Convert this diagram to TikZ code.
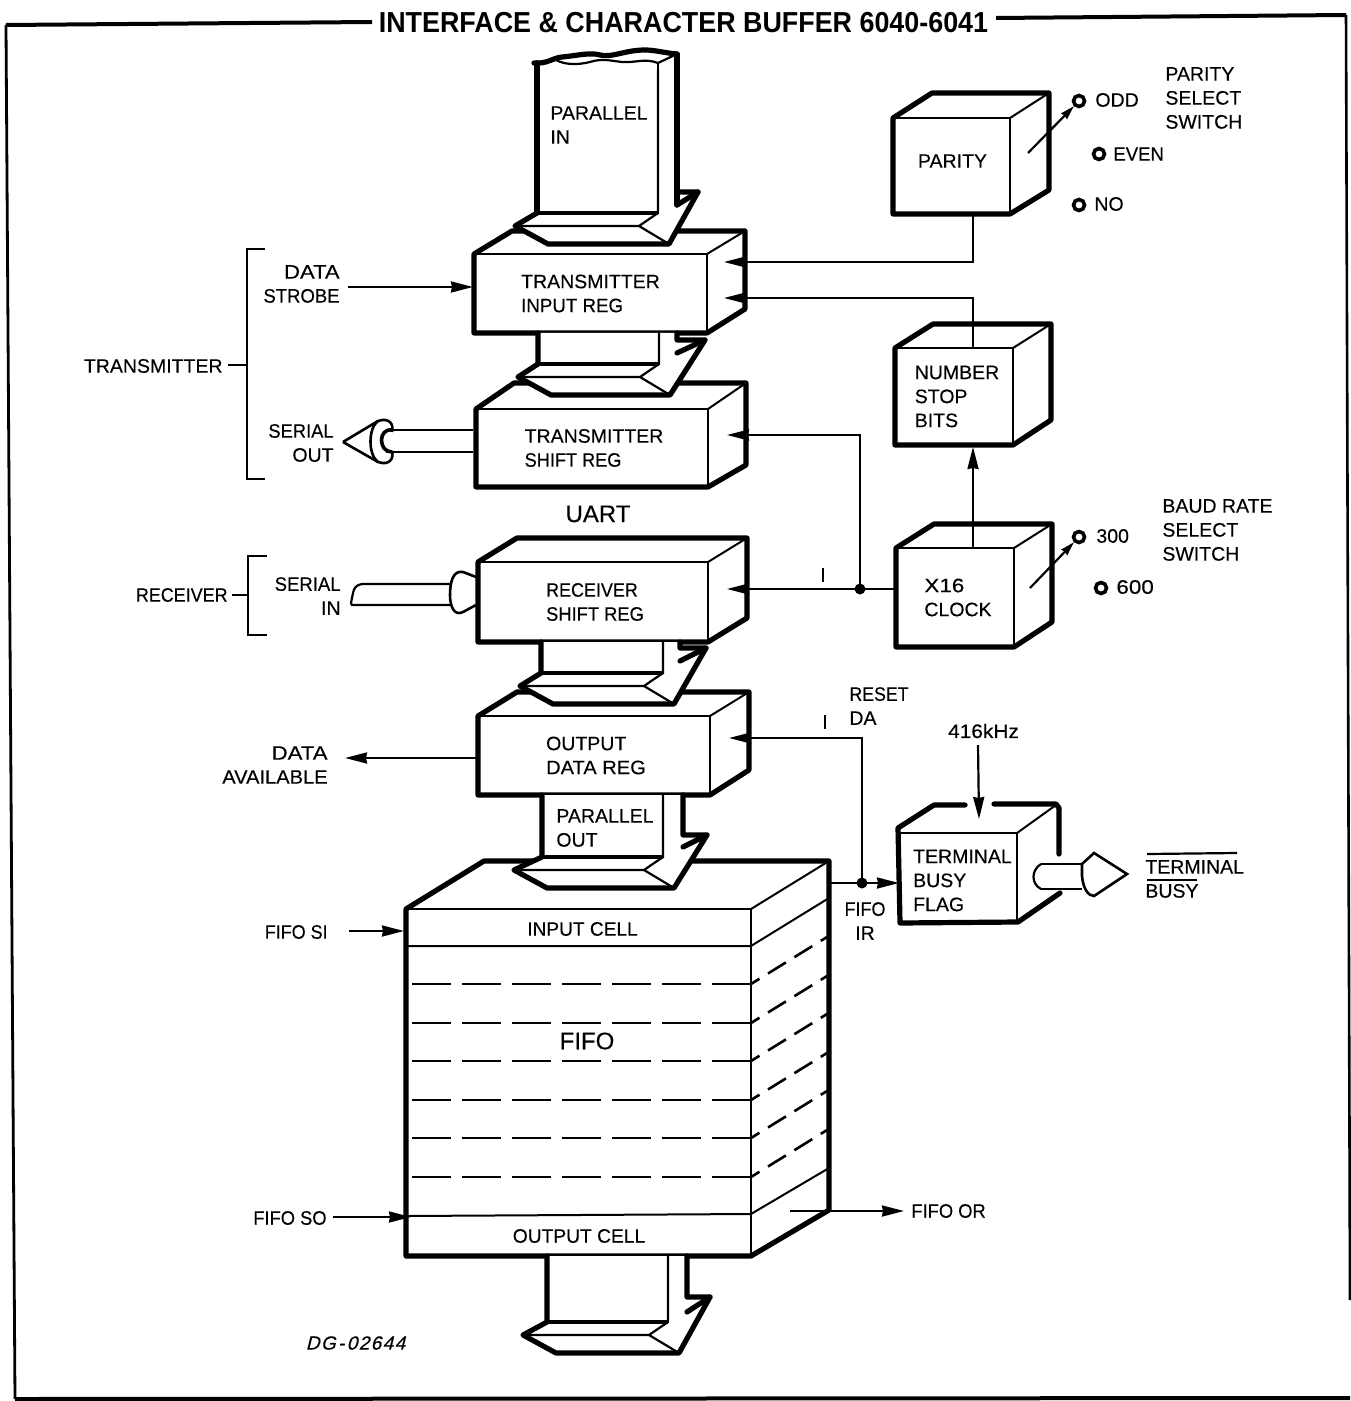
\documentclass[tikz,border=0pt]{standalone}
\usepackage{fontspec}
\setmainfont{Liberation Sans}[FakeBold=0.25]
\newfontfamily\titlefont{Liberation Sans Bold}[FakeStretch=0.93]
\newfontfamily\dgfont{Liberation Sans}[FakeBold=0.5,FakeSlant=0.25]
\usetikzlibrary{arrows.meta}
\newcommand\sx[2]{\scalebox{#1}[1]{#2}}
\newcommand\pl[1]{\hspace*{#1pt}}
\newcommand\dn[1]{\raisebox{-1.5pt}[\height][\depth]{#1}}
\tikzset{
  thin line/.style={line width=1pt},
  heavy/.style={line width=2.6pt,line join=round,line cap=round},
  wire/.style={line width=1.1pt},
  dashline/.style={line width=1.3pt},
  arr/.style={wire,-{Stealth[length=11pt,width=5.5pt,inset=0.5pt]}},
  lbl/.style={inner sep=0pt,align=left,font=\fontsize{9.75pt}{12pt}\selectfont},
  lblr/.style={inner sep=0pt,align=right,font=\fontsize{9.75pt}{12pt}\selectfont},
  boxface/.style={draw,fill=white,line width=1pt,inner sep=0pt,align=left,font=\fontsize{9.75pt}{12pt}\selectfont},
  dot/.style={circle,fill=black,inner sep=0pt,minimum size=5.5pt},
  term/.style={circle,draw,line width=1.8pt,fill=white,inner sep=0pt,minimum size=5.5pt},
}
% name, x0, y0, x1, y1, back x, back top, back bottom, text
\newcommand\regbox[9]{%
  \pgfmathsetmacro\bxd{#6-#4}%
  \pgfmathsetmacro\bxl{#2+\bxd}%
  \pgfmathsetmacro\bxw{(#4-#2)*0.5}%
  \pgfmathsetmacro\bxh{(#5-#3)*0.5}%
  \pgfmathsetmacro\bxcx{(#4+#2)*0.5}%
  \pgfmathsetmacro\bxcy{(#5+#3)*0.5}%
  \fill[white] (#2,#3)--(\bxl,#7)--(#6,#7)--(#6,#8)--(#4,#5)--(#2,#5)--cycle;
  \draw[thin line] (#4,#3)--(#6,#7);
  \node[boxface,minimum width=\bxw pt,minimum height=\bxh pt] (#1) at (\bxcx,\bxcy) {#9};
  \draw[heavy] (#2,#3)--(\bxl,#7)--(#6,#7)--(#6,#8)--(#4,#5)--(#2,#5)--cycle;
}
% L, R, O, top, Y, head x, head y, outer end y; tip x in \rT
\newcommand\ribbon[8]{%
  \pgfmathsetmacro\rty{#5+13}%
  \pgfmathsetmacro\rblx{\rT+33}%
  \pgfmathsetmacro\rbly{#5+31}%
  \pgfmathsetmacro\rbrx{#2+11}%
  \pgfmathsetmacro\rix{#2-19}%
  \fill[white] (#1,#4)--(#3,#4)--(#3,#8)--(#6,#7)--(\rbrx,\rbly)--(\rblx,\rbly)--(\rT,\rty)--(#1,#5)--cycle;
  \draw[line width=1.1pt] (#2,#4)--(#2,#5)--(\rix,\rty)--(\rT,\rty);
  \draw[line width=1.1pt] (\rix,\rty)--(\rbrx,\rbly);
  \draw[line width=1.6pt] (#1,#5)--(#2,#5);
  \draw[heavy] (#1,#4)--(#1,#5)--(\rT,\rty)--(\rblx,\rbly)--(\rbrx,\rbly)--(#6,#7)--(#3,#7)--(#3,#4);
  \draw[heavy] (#3,#8)--(#6,#7);
}
\begin{document}
\begin{tikzpicture}[x=0.5pt,y=-0.5pt]
\useasboundingbox (0,0) rectangle (1350,1401);
\fill[white] (0,0) rectangle (1350,1401);
% frame
\coordinate (fTL) at (6,25); \coordinate (fTa) at (372,22); \coordinate (fTb) at (996,18);
\coordinate (fTR) at (1346,15); \coordinate (fBL) at (15,1399); \coordinate (fBR) at (1350,1398);
\coordinate (fRb) at (1350,1300);
\draw[line width=2pt,line join=round] (fTL)--(fTa) (fTb)--(fTR);
\draw[line width=1.4pt] (fTL)--(fBL);
\draw[line width=1.3pt] (fTR)--(fRb);
\draw[line width=2pt] (fBL)--(fBR);
\node[inner sep=0pt,font=\fontsize{14.45pt}{16pt}\titlefont] (title) at (683.5,23) {INTERFACE \& CHARACTER BUFFER 6040-6041};

% registers
\regbox{tir}{474}{254}{707}{333}{745}{231}{309}{TRANSMITTER\\\sx{.96}{INPUT REG}}
\regbox{tsr}{476}{409}{708}{487}{746}{383}{465}{\pl{2}TRANSMITTER\\\pl{2}\sx{.93}{SHIFT REG}}
\regbox{rsr}{478}{562}{708}{642}{747}{538}{618}{\pl{2}\sx{.92}{RECEIVER}\\\pl{2}\sx{.94}{SHIFT REG}}
\regbox{odr}{478}{716}{710}{795}{749}{692}{770}{\pl{2}OUTPUT\\\pl{2}\sx{1.03}{DATA REG}}
\regbox{parity}{893}{118}{1010}{214}{1049}{93}{190}{\pl{1}PARITY\\[-7pt]\mbox{}}
\regbox{nsb}{895}{348}{1013}{445}{1051}{324}{420}{\pl{3}NUMBER\\\pl{3}STOP\\\pl{3}BITS}
\regbox{clk}{896}{548}{1014}{647}{1052}{524}{622}{\pl{3}\sx{1.15}{X16}\\\pl{3}CLOCK}
% terminal busy flag: outline broken at the top and on the side
\fill[white] (900,833)--(935,803)--(1058,803)--(1058,893)--(1017,922)--(900,922)--cycle;
\draw[thin line] (1017,833)--(1056,805);
\node[boxface,minimum width=58.5pt,minimum height=44.5pt] (tbf) at (958.5,877.5) {\pl{4}\dn{TERMINAL}\\\pl{4}\dn{BUSY}\\\pl{4}\dn{FLAG}};
\draw[heavy] (965,805)--(934,805)--(898,828)--(900,923)--(1018,922)--(1060,893);
\draw[heavy] (994,804)--(1056,804)--(1059,808)--(1059,854);
% FIFO
\regbox{fifo}{406}{909}{751}{1256}{829}{861}{1210}{}
\draw[thin line] (406,946)--(751,946)--(829,898);
\draw[thin line] (406,1216)--(751,1214)--(829,1168);
\foreach \yy in {984,1023,1061,1100,1138,1177}{
  \draw[dashline,dash pattern=on 19.5pt off 5.5pt] (751,\yy)--(408,\yy);
  \draw[dashline,dash pattern=on 5pt off 5pt on 10.5pt off 5pt on 10.5pt off 5pt on 5pt off 9pt] (751,\yy)--(827,{\yy-47});
}
\node[lbl] (icell) at (582.5,929) {\sx{.98}{INPUT CELL}};
\node[lbl] (ocell) at (579,1236) {\sx{.985}{OUTPUT CELL}};
\node[inner sep=0pt,font=\fontsize{12pt}{14pt}\selectfont] (fifoT) at (587,1041) {FIFO};

% ribbons
\def\rT{515}\ribbon{537}{658}{677}{63}{213}{698}{192}{205}
\def\rT{518}\ribbon{538}{659}{677}{333}{364}{705}{340}{353}
\def\rT{520}\ribbon{541}{663}{680}{642}{673}{706}{648}{661}
\def\rT{514}\ribbon{542}{663}{683}{795}{857}{707}{835}{847}
\def\rT{523}\ribbon{547}{668}{687}{1256}{1322}{710}{1297}{1312}
% torn top of the parallel-in ribbon
\fill[white] (537,64) .. controls (560,52) and (640,44) .. (677,50) -- (677,70) -- (537,70)--cycle;
\draw[heavy] (534,63) .. controls (548,64) and (552,58) .. (562,57) .. controls (575,56) and (590,52) .. (600,55)
  .. controls (612,58) and (625,50) .. (645,50) .. controls (655,50) and (665,53) .. (677,54);
\draw[line width=1.1pt] (556,60) .. controls (565,65) and (578,65) .. (590,62) .. controls (602,58) and (612,61) .. (622,62) .. controls (635,63) and (645,58) .. (658,63) -- (677,54);
\draw[heavy] (537,63)--(537,213);
\draw[heavy] (677,54)--(677,205);
\draw[line width=1.1pt] (658,63)--(658,213);
\node[lbl] (pin) at (599,125) {PARALLEL\\IN};
\node[lbl] (pout) at (605,828) {PARALLEL\\OUT};
\node[lbl,font=\fontsize{12pt}{14pt}\selectfont] (uart) at (598,514) {UART};

% external text labels
\node[lblr,anchor=east] (strobe) at (340,284) {\sx{1.13}{DATA}\\\sx{.95}{STROBE}};
\node[lblr,anchor=east] (sout) at (334,443) {\sx{.94}{SERIAL}\\OUT};
\node[lblr,anchor=east] (sin) at (341,596) {\sx{.95}{SERIAL}\\IN};
\node[lbl,anchor=east] (tx) at (223,366) {TRANSMITTER};
\node[lbl,anchor=east] (rx) at (228,595) {\sx{.92}{RECEIVER}};
\node[lblr,anchor=east] (davail) at (328,765) {\sx{1.14}{DATA}\\\sx{1.03}{AVAILABLE}};
\node[lbl,anchor=east] (fsi) at (328,932) {\sx{.92}{FIFO SI}};
\node[lbl,anchor=east] (fso) at (327,1218) {\sx{.94}{FIFO SO}};
\node[lbl,anchor=west] (for) at (911,1211) {\sx{.94}{FIFO OR}};
\node[lbl,anchor=west] (rda) at (849,706) {\sx{.91}{RESET}\\DA};
\node[lblr,align=center] (fir) at (865,921) {\sx{.92}{FIFO}\\IR};
\node[lbl] (khz) at (983.5,731) {\sx{1.07}{416kHz}};
\node[lbl,anchor=west] (tbl) at (1145,879) {TERMINAL\\BUSY};
\node[lbl,anchor=west] (pss) at (1165,98) {PARITY\\SELECT\\SWITCH};
\node[lbl,anchor=west] (bss) at (1162,530) {BAUD RATE\\SELECT\\SWITCH};
\node[lbl,anchor=west] (odd) at (1095,100) {ODD};
\node[lbl,anchor=west] (even) at (1113,154) {\sx{.95}{EVEN}};
\node[lbl,anchor=west] (no) at (1094,204) {NO};
\node[lbl,anchor=west] (b300) at (1096,536) {300};
\node[lbl,anchor=west] (b600) at (1116,587) {\sx{1.15}{600}};
\node[inner sep=0pt,font=\fontsize{9.5pt}{10pt}\dgfont] (dg) at (355.5,1343) {D\kern.7pt G\kern1.2pt -\kern1.2pt 0\kern.7pt 2\kern.7pt 6\kern.7pt 4\kern.7pt 4};
\draw[line width=1.1pt] (1147,854)--(1237,853);
\draw[line width=1.1pt] (1147,880)--(1197,880);

% brackets
\coordinate (bt1) at (265,249); \coordinate (bt2) at (247,249); \coordinate (bt3) at (247,479); \coordinate (bt4) at (265,479);
\coordinate (bt5) at (247,365); \coordinate (bt6) at (228,365);
\draw[line width=1.1pt] (bt1)--(bt2)--(bt3)--(bt4) (bt6)--(bt5);
\coordinate (br1) at (267,556); \coordinate (br2) at (248,556); \coordinate (br3) at (248,635); \coordinate (br4) at (267,635);
\coordinate (br5) at (248,595); \coordinate (br6) at (232,595);
\draw[line width=1.1pt] (br1)--(br2)--(br3)--(br4) (br6)--(br5);

% connectors
\coordinate (a1s) at (348,287); \coordinate (a1e) at (473,287);
\draw[arr] (a1s)--(a1e);
\coordinate (p1) at (973,214); \coordinate (p2) at (973,262); \coordinate (p3) at (724,262);
\draw[arr] (p1)--(p2)--(p3);
\coordinate (n1) at (973,348); \coordinate (n2) at (973,298); \coordinate (n3) at (724,298);
\draw[arr] (n1)--(n2)--(n3);
\coordinate (c1) at (973,548); \coordinate (c2) at (973,447);
\draw[arr] (c1)--(c2);
\coordinate (clkw) at (896,589); \coordinate (rin) at (727,589);
\draw[arr] (clkw)--(rin);
\node[dot] (j1) at (860,589) {};
\coordinate (j1t) at (860,435); \coordinate (tin) at (727,435);
\draw[arr] (j1.center)--(j1t)--(tin);
\node[dot] (j2) at (862,883) {};
\coordinate (fr) at (829,883); \coordinate (tbin) at (899,883);
\draw[arr] (fr)--(tbin);
\coordinate (j2t) at (862,738); \coordinate (oin) at (729,738);
\draw[arr] (j2.center)--(j2t)--(oin);
\coordinate (da1) at (478,758); \coordinate (da2) at (345,758);
\draw[arr] (da1)--(da2);
\coordinate (si1) at (349,931); \coordinate (si2) at (404,931);
\draw[arr] (si1)--(si2);
\coordinate (so1) at (333,1217); \coordinate (so2) at (411,1217);
\draw[arr] (so1)--(so2);
\coordinate (or1) at (790,1211); \coordinate (or2) at (904,1211);
\draw[arr] (or1)--(or2);
\coordinate (k1) at (978,745); \coordinate (k2) at (979,819);
\draw[arr] (k1)--(k2);
% ticks on the clock and reset lines
\coordinate (t1a) at (823,568); \coordinate (t1b) at (823,582);
\coordinate (t2a) at (825,715); \coordinate (t2b) at (825,729);
\draw[line width=1.1pt] (t1a)--(t1b) (t2a)--(t2b);

% switches
\node[term] (sOdd) at (1079,101) {};
\node[term] (sEven) at (1099,154) {};
\node[term] (sNo) at (1079,205) {};
\node[term] (s300) at (1079,537) {};
\node[term] (s600) at (1101,588) {};
\coordinate (sw1) at (1028,153); \coordinate (sw2) at (1030,588);
\draw[wire,-{Stealth[length=7pt,width=4pt,inset=0.5pt]}] (sw1)--(sOdd);
\draw[wire,-{Stealth[length=7pt,width=4pt,inset=0.5pt]}] (sw2)--(s300);

% serial out connector
\draw[wire] (473,430)--(386,430) (473,452)--(386,452);
\draw[line width=1.3pt] (343,442)--(378,421) .. controls (390,417) and (394,425) .. (392,432)
  (343,442)--(378,462) .. controls (390,466) and (394,458) .. (392,451);
\draw[line width=1.3pt] (378,421) .. controls (368,428) and (368,455) .. (378,462);
\draw[line width=1.8pt] (392,430) .. controls (378,428) and (378,452) .. (392,452);
% serial in connector
\draw[wire] (450,584)--(362,584) .. controls (356,585) and (354,588) .. (353,593) -- (351,603) .. controls (351,605) and (352,605) .. (354,605) -- (450,605);
\draw[line width=1.3pt] (476,577)--(463,572) .. controls (453,570) and (450,582) .. (450,595) .. controls (450,608) and (455,616) .. (463,612)--(476,605);
% terminal busy output connector
\draw[wire] (1041,864)--(1082,864) (1041,889)--(1082,889);
\draw[wire] (1041,864) .. controls (1031,870) and (1031,884) .. (1041,889);
\draw[line width=1.3pt] (1082,864)--(1094,853)--(1127,874)--(1094,896) .. controls (1088,896) and (1083,888) .. (1082,876) .. controls (1082,870) and (1082,866) .. (1082,864);
\end{tikzpicture}
\end{document}
